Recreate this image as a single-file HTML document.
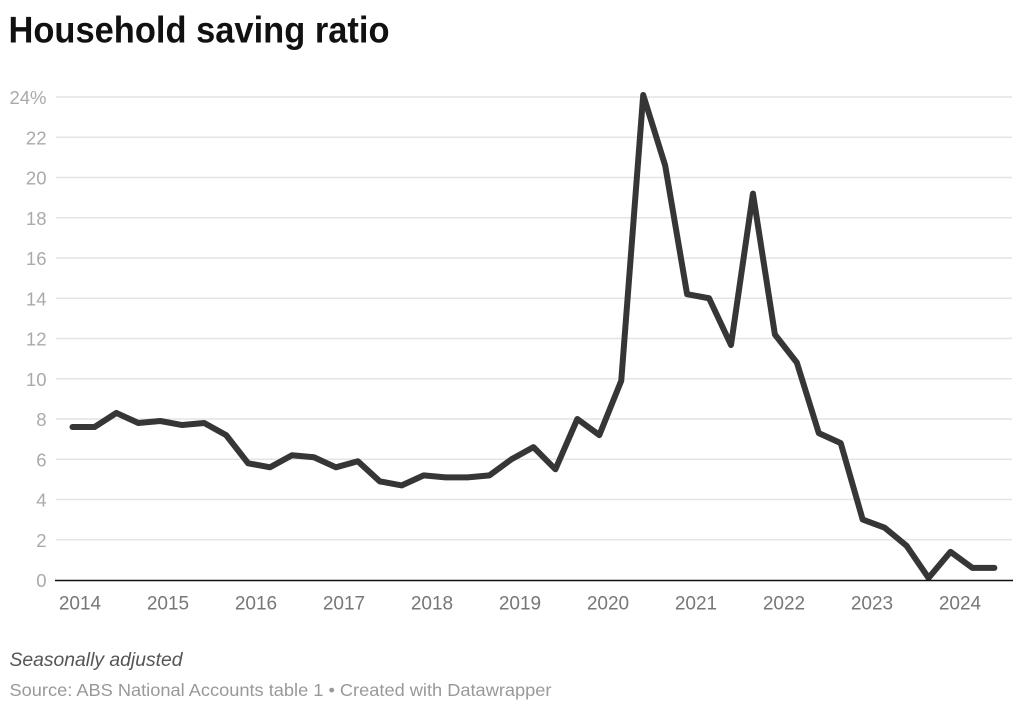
<!DOCTYPE html>
<html>
<head>
<meta charset="utf-8">
<style>
  html, body { margin: 0; padding: 0; background: #ffffff; }
  svg { display: block; }
  text { font-family: "Liberation Sans", sans-serif; }
</style>
</head>
<body>
<svg width="1024" height="710" viewBox="0 0 1024 710" xmlns="http://www.w3.org/2000/svg">
  <rect x="0" y="0" width="1024" height="710" fill="#ffffff"/>

  <!-- Title -->
  <text x="8.5" y="42.7" font-size="37" font-weight="bold" fill="#111" textLength="381" lengthAdjust="spacingAndGlyphs">Household saving ratio</text>

  <!-- Gridlines -->
  <g stroke="#e4e4e4" stroke-width="1.5">
    <line x1="56" x2="1012" y1="97" y2="97"/>
    <line x1="56" x2="1012" y1="137.25" y2="137.25"/>
    <line x1="56" x2="1012" y1="177.5" y2="177.5"/>
    <line x1="56" x2="1012" y1="217.75" y2="217.75"/>
    <line x1="56" x2="1012" y1="258" y2="258"/>
    <line x1="56" x2="1012" y1="298.25" y2="298.25"/>
    <line x1="56" x2="1012" y1="338.5" y2="338.5"/>
    <line x1="56" x2="1012" y1="378.75" y2="378.75"/>
    <line x1="56" x2="1012" y1="419" y2="419"/>
    <line x1="56" x2="1012" y1="459.25" y2="459.25"/>
    <line x1="56" x2="1012" y1="499.5" y2="499.5"/>
    <line x1="56" x2="1012" y1="539.75" y2="539.75"/>
  </g>

  <!-- Y labels -->
  <g font-size="18.5" fill="#aaaaaa" text-anchor="end">
    <text x="46.5" y="104">24%</text>
    <text x="46.5" y="144.25">22</text>
    <text x="46.5" y="184.5">20</text>
    <text x="46.5" y="224.75">18</text>
    <text x="46.5" y="265">16</text>
    <text x="46.5" y="305.25">14</text>
    <text x="46.5" y="345.5">12</text>
    <text x="46.5" y="385.75">10</text>
    <text x="46.5" y="426">8</text>
    <text x="46.5" y="466.25">6</text>
    <text x="46.5" y="506.5">4</text>
    <text x="46.5" y="546.75">2</text>
    <text x="46.5" y="587">0</text>
  </g>

  <!-- Series line -->
  <polyline fill="none" stroke="#363636" stroke-width="6" stroke-linejoin="round" stroke-linecap="round"
    points="72.5,427.05 94.45,427.05 116.4,412.96 138.35,423.03 160.3,421.01 182.25,425.04 204.2,423.03 226.15,435.1 248.1,463.28 270.05,467.3 292,455.23 313.95,457.24 335.9,467.3 357.85,461.26 379.8,481.39 401.75,485.41 423.7,475.35 445.65,477.36 467.6,477.36 489.55,475.35 511.5,459.25 533.45,447.17 555.4,469.31 577.35,419 599.3,435.1 621.25,380.76 643.2,94.99 665.15,165.42 687.1,294.22 709.05,298.25 731,345 752.95,193.6 774.9,334.47 796.85,362.65 818.8,433.09 840.75,443.15 862.7,519.62 884.65,527.67 906.6,545.79 928.55,577.99 950.5,551.82 972.45,567.93 994.4,567.93"/>

  <!-- Zero axis -->
  <line x1="55" x2="1013" y1="580.5" y2="580.5" stroke="#111" stroke-width="1.6"/>

  <!-- X labels -->
  <g font-size="19" fill="#777777" text-anchor="middle">
    <text x="80" y="609.5">2014</text>
    <text x="168" y="609.5">2015</text>
    <text x="256" y="609.5">2016</text>
    <text x="344" y="609.5">2017</text>
    <text x="432" y="609.5">2018</text>
    <text x="520" y="609.5">2019</text>
    <text x="608" y="609.5">2020</text>
    <text x="696" y="609.5">2021</text>
    <text x="784" y="609.5">2022</text>
    <text x="872" y="609.5">2023</text>
    <text x="960" y="609.5">2024</text>
  </g>

  <!-- Notes -->
  <text x="9.5" y="666" font-size="19.5" font-style="italic" fill="#555555" textLength="173" lengthAdjust="spacingAndGlyphs">Seasonally adjusted</text>
  <text x="9.5" y="696" font-size="17.7" fill="#999999" textLength="542" lengthAdjust="spacingAndGlyphs">Source: ABS National Accounts table 1 • Created with Datawrapper</text>
</svg>
</body>
</html>
